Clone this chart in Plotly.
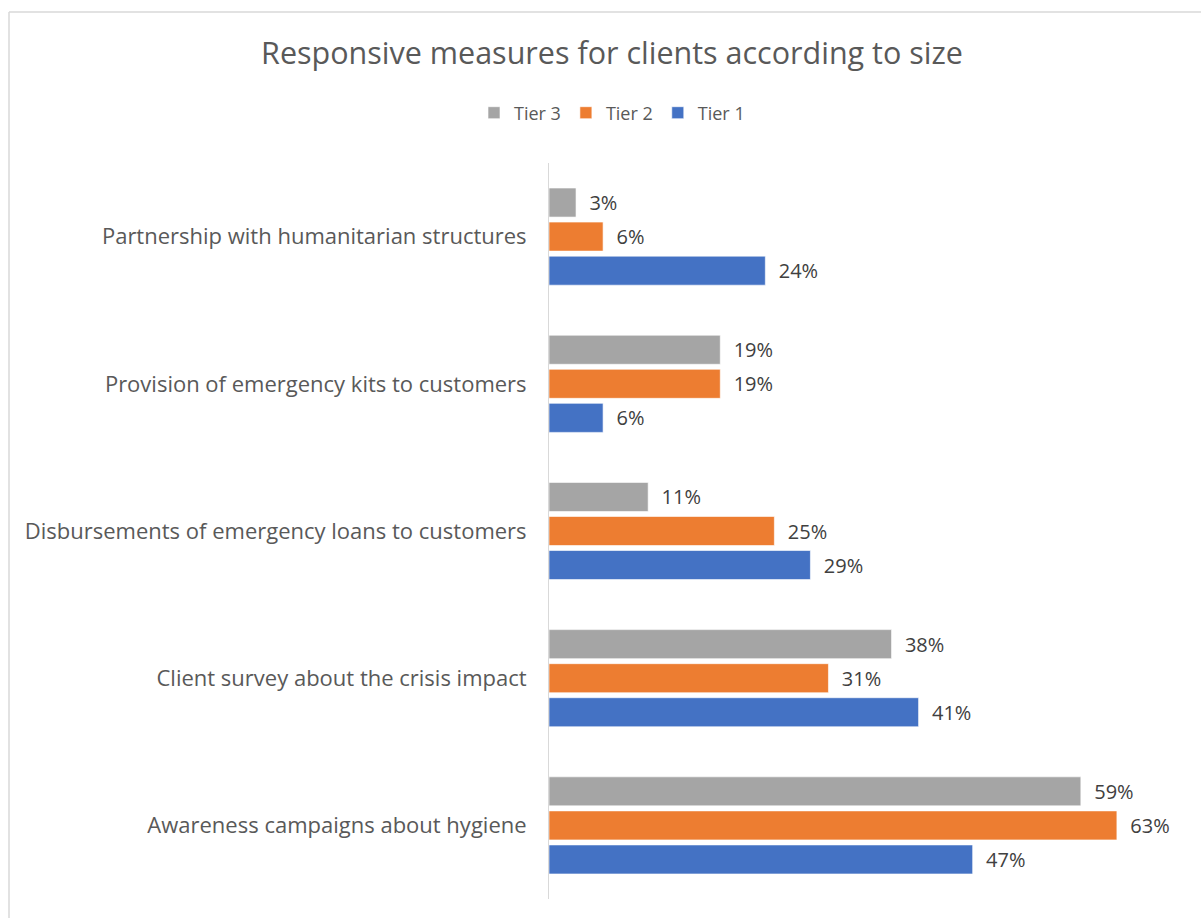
import plotly.graph_objects as go

# Survey results: share of institutions taking each measure, by tier (%)
categories = [
    "Awareness campaigns about hygiene",
    "Client survey about the crisis impact",
    "Disbursements of emergency loans to customers",
    "Provision of emergency kits to customers",
    "Partnership with humanitarian structures",
]
tier1 = [47, 41, 29, 6, 24]
tier2 = [63, 31, 25, 19, 6]
tier3 = [59, 38, 11, 19, 3]

series = [
    ("Tier 1", tier1, "#4472C4"),
    ("Tier 2", tier2, "#ED7D31"),
    ("Tier 3", tier3, "#A5A5A5"),
]

W, H = 1201, 918
ML, MR, MT, MB = 549, 21, 163, 19

fig = go.Figure()
for name, vals, color in series:
    fig.add_trace(go.Bar(
        y=categories,
        x=vals,
        name=name,
        orientation="h",
        marker=dict(color=color, line=dict(color="rgba(255,255,255,0.6)", width=1)),
        text=[f"\u00a0\u00a0{v}%" for v in vals],
        textposition="outside",
        textfont=dict(size=20, color="#404040"),
        cliponaxis=False,
    ))

# helpers converting page pixels into paper coordinates for the frame
pw, ph = W - ML - MR, H - MT - MB
def px_x(x):
    return (x - ML) / pw
def px_y(y):
    return (H - MB - y) / ph

fig.update_layout(
    width=W, height=H,
    margin=dict(l=ML, r=MR, t=MT, b=MB),
    paper_bgcolor="white", plot_bgcolor="white",
    font=dict(family="Open Sans, sans-serif", color="#595959"),
    barmode="group",
    bargap=0.306,
    bargroupgap=0.147,
    title=dict(
        text="Responsive measures for clients according to size",
        x=(612) / W, xanchor="center",
        y=1 - 53 / H, yanchor="middle",
        font=dict(size=30.5, color="#595959"),
    ),
    legend=dict(
        orientation="h",
        traceorder="reversed",
        x=px_x(612), xanchor="center",
        y=px_y(113), yanchor="middle",
        font=dict(size=18, color="#595959"),
        itemwidth=30,
    ),
    xaxis=dict(
        range=[0, 70],
        showgrid=False, zeroline=False, showticklabels=False,
        showline=False,
    ),
    yaxis=dict(
        showgrid=False, zeroline=False,
        showline=True, linecolor="#D9D9D9", linewidth=1,
        tickfont=dict(size=22, color="#595959"),
        ticklabelstandoff=17,
    ),
    shapes=[
        dict(type="line", xref="paper", yref="paper",
             x0=px_x(9), x1=px_x(1201), y0=px_y(12), y1=px_y(12),
             line=dict(color="#D9D9D9", width=1.5)),
        dict(type="line", xref="paper", yref="paper",
             x0=px_x(9), x1=px_x(9), y0=px_y(12), y1=px_y(918),
             line=dict(color="#D9D9D9", width=1.5)),
    ],
)

fig.write_html("out.html")
